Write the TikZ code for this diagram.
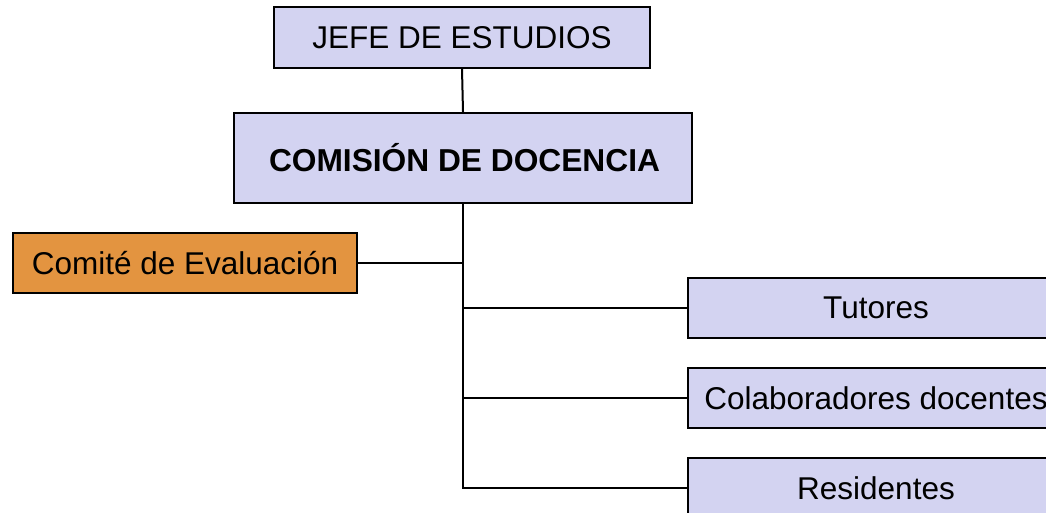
\documentclass[tikz,border=0pt]{standalone}
\usepackage{fontspec}
\setmainfont{Liberation Sans}
\definecolor{lav}{RGB}{211,211,241}
\definecolor{orng}{RGB}{227,148,64}
\begin{document}
\begin{tikzpicture}[x=1pt,y=-1pt,
  box/.style={draw=black,line width=2pt,fill=lav,inner sep=0pt,
    font=\fontsize{31.5}{36}\selectfont},
  conn/.style={line width=2pt}]
\clip (0,0) rectangle (1046,512);
\useasboundingbox (0,0) rectangle (1046,512);
\node[box,minimum width=376pt,minimum height=61pt] (jefe) at (462,37.5) {JEFE DE ESTUDIOS};
\node[box,minimum width=458pt,minimum height=90pt,font=\fontsize{31.7}{36}\selectfont\bfseries] (com) at (463,158) {\hspace*{3pt}COMISIÓN DE DOCENCIA};
\node[box,fill=orng,minimum width=344pt,minimum height=60pt] (comite) at (185,263) {Comité de Evaluación};
\node[box,minimum width=376pt,minimum height=60pt] (tut) at (876,308) {Tutores};
\node[box,minimum width=376pt,minimum height=60pt] (col) at (876,398) {Colaboradores docentes};
\node[box,minimum width=376pt,minimum height=60pt] (res) at (876,488) {Residentes};
\draw[conn] (jefe.south) -- (com.north);
\draw[conn] (com.south) -- (com.south |- res.west) -- (res.west);
\draw[conn] (comite.east) -- (comite.east -| com.south);
\draw[conn] (tut.west) -- (tut.west -| com.south);
\draw[conn] (col.west) -- (col.west -| com.south);
\end{tikzpicture}
\end{document}
